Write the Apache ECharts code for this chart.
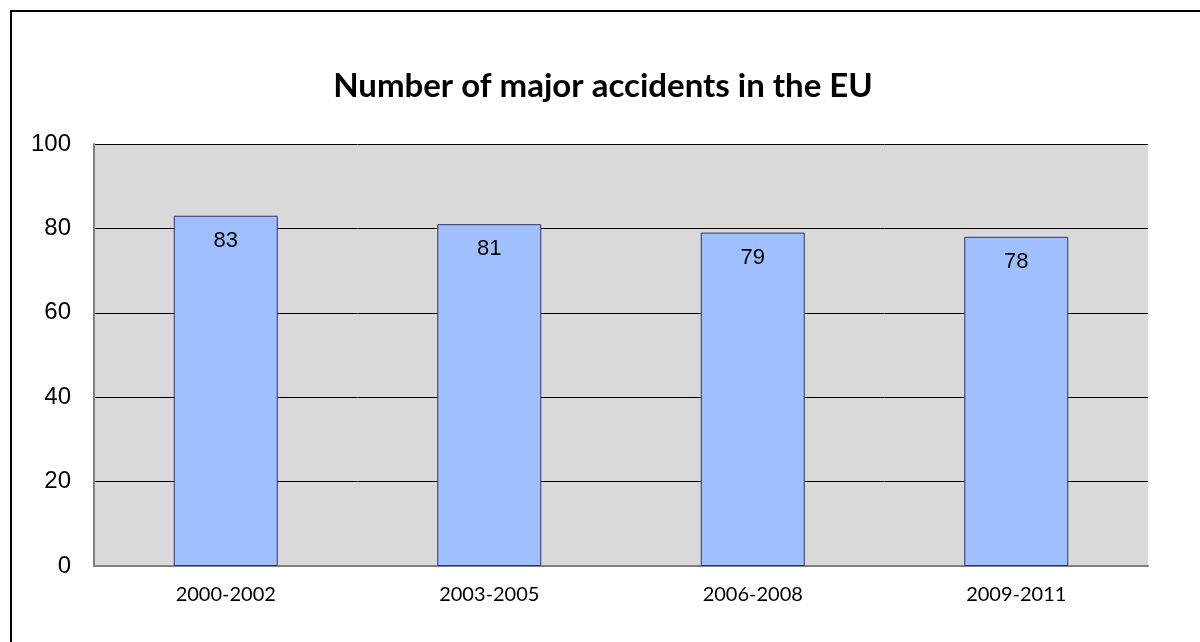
<!DOCTYPE html>
<html><head><meta charset="utf-8">
<script src="https://cdn.jsdelivr.net/npm/echarts@6/dist/echarts.min.js"></script>
<style>html,body{margin:0;padding:0;background:#fff}#c{width:1200px;height:642px}</style>
</head><body><div id="c"></div>
<script>
const categories = ['2000-2002','2003-2005','2006-2008','2009-2011'];
const values = [83, 81, 79, 78];
const yTicks = [0, 20, 40, 60, 80, 100];

const chart = echarts.init(document.getElementById('c'), null, {renderer:'canvas'});
chart.setOption({
  animation: false,
  backgroundColor: '#fff',
  title: {
    text: 'Number of major accidents in the EU',
    left: 598, top: 65, textAlign: 'center',
    textStyle: {fontFamily: 'Lato, "Open Sans", sans-serif', fontWeight: 'bold', fontSize: 33, color: '#000'}
  },
  grid: {left: 94, right: 52, top: 144, bottom: 76, show: true, backgroundColor: '#D9D9D9', borderWidth: 0},
  xAxis: {
    type: 'category', data: categories,
    axisLine: {lineStyle: {color: '#808080', width: 2}},
    axisTick: {show: false},
    axisLabel: {fontFamily: 'Lato, "Open Sans", sans-serif', fontSize: 20, color: '#000', margin: 19}
  },
  yAxis: {
    type: 'value', min: yTicks[0], max: yTicks[yTicks.length-1], interval: 20,
    axisLine: {show: true, lineStyle: {color: '#808080', width: 2}},
    axisTick: {show: false},
    splitLine: {lineStyle: {color: '#000', width: 1}},
    axisLabel: {fontFamily: 'Liberation Sans, Arial, sans-serif', fontSize: 24, color: '#000', margin: 23}
  },
  series: [{
    type: 'bar', data: values, barWidth: 104,
    itemStyle: {color: '#A0BFFF', borderColor: '#333366', borderWidth: 1},
    label: {show: true, position: 'insideTop', distance: 14, fontFamily: 'Liberation Sans, Arial, sans-serif', fontSize: 22, color: '#000'}
  }],
  graphic: [{
    type: 'polyline', silent: true,
    shape: {points: [[11, 650], [11, 11], [1210, 11]]},
    style: {stroke: '#000', lineWidth: 2, fill: null}
  }]
});
</script></body></html>
